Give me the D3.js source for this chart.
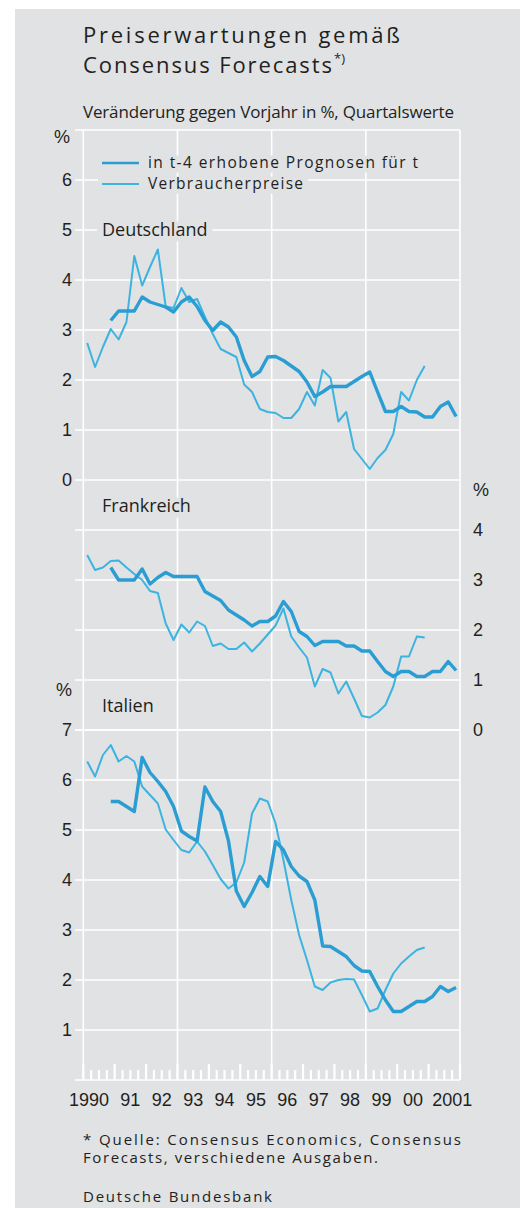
<!DOCTYPE html>
<html>
<head>
<meta charset="utf-8">
<script src="https://cdn.jsdelivr.net/npm/d3@7"></script>
<style>body{margin:0;background:#fff}</style>
</head>
<body>
<script>
// quarterly values 1990Q1 .. 2001Q4 (null = no value)
var yearLabels = ["1990","91","92","93","94","95","96","97","98","99","00","2001"];

var deCPI = [2.74,2.26,2.66,3.02,2.81,3.16,4.48,3.89,4.26,4.61,3.47,3.44,3.84,3.56,3.62,3.26,
  2.92,2.62,2.54,2.46,1.91,1.76,1.42,1.36,1.34,1.24,1.24,1.42,1.76,1.49,2.2,2.04,
  1.17,1.36,0.62,0.42,0.22,0.44,0.6,0.92,1.76,1.59,2.0,2.28,null,null,null,null];
var deFC = [null,null,null,3.19,3.38,3.38,3.38,3.66,3.56,3.51,3.46,3.36,3.56,3.66,3.47,3.19,
  2.99,3.16,3.06,2.86,2.39,2.07,2.17,2.46,2.47,2.39,2.28,2.17,1.96,1.67,1.76,1.87,
  1.87,1.87,1.97,2.07,2.16,1.76,1.37,1.37,1.47,1.37,1.36,1.26,1.26,1.47,1.56,1.27];

var frCPI = [3.5,3.2,3.25,3.38,3.39,3.25,3.12,3.0,2.78,2.74,2.13,1.8,2.11,1.95,2.17,2.08,
  1.68,1.73,1.62,1.62,1.75,1.57,1.73,1.91,2.09,2.43,1.87,1.65,1.45,0.87,1.22,1.15,
  0.73,0.97,0.63,0.28,0.25,0.35,0.5,0.87,1.47,1.47,1.87,1.85,null,null,null,null];
var frFC = [null,null,null,3.25,3.0,3.0,3.0,3.22,2.92,3.05,3.15,3.07,3.07,3.07,3.07,2.77,
  2.68,2.59,2.4,2.3,2.2,2.08,2.17,2.17,2.28,2.57,2.37,1.97,1.87,1.69,1.77,1.77,
  1.77,1.68,1.68,1.58,1.58,1.37,1.17,1.07,1.17,1.17,1.07,1.07,1.17,1.17,1.37,1.19];

var itCPI = [6.37,6.07,6.5,6.7,6.37,6.48,6.37,5.87,5.7,5.53,5.01,4.8,4.6,4.55,4.77,4.57,
  4.3,4.02,3.83,3.95,4.35,5.33,5.63,5.57,5.13,4.4,3.6,2.9,2.4,1.87,1.8,1.95,
  2.0,2.02,2.01,1.7,1.37,1.43,1.8,2.13,2.33,2.47,2.6,2.65,null,null,null,null];
var itFC = [null,null,null,5.57,5.57,5.47,5.37,6.45,6.15,5.97,5.77,5.47,4.98,4.87,4.78,5.86,
  5.57,5.37,4.78,3.78,3.47,3.75,4.07,3.87,4.77,4.6,4.27,4.08,3.97,3.6,2.68,2.67,
  2.57,2.47,2.29,2.18,2.17,1.87,1.6,1.37,1.37,1.47,1.57,1.57,1.67,1.87,1.77,1.85];

var legendLabels = ["in t-4 erhobene Prognosen für t", "Verbraucherpreise"];

var bg = "#e1e2e4", ink = "#231f20", grid = "#ffffff";
var cFC = "#2a9dd3", cCPI = "#3db3e0";
var sans = "'Open Sans','Noto Sans',sans-serif";
var narrow = "'Liberation Sans Narrow','Liberation Sans',sans-serif";

var svg = d3.select("body").append("svg").attr("width", 520).attr("height", 1208);
svg.append("rect").attr("x", 15).attr("y", 9).attr("width", 505).attr("height", 1199).attr("fill", bg);

var x = d3.scaleLinear().domain([1990, 2002]).range([83.3, 460]);
var qx = function(i) { return x(1990 + (i + 0.5) / 4); };
var yDE = d3.scaleLinear().domain([0, 7]).range([480, 130]);
var yFR = d3.scaleLinear().domain([0, 4]).range([730, 530]);
var yIT = d3.scaleLinear().domain([0, 7]).range([1080, 730]);

// grid
var g = svg.append("g").attr("stroke", grid).attr("stroke-width", 1.6);
[[yDE, yDE.ticks(7)], [yFR, yFR.ticks(4)], [yIT, yIT.ticks(7)]].forEach(function(p) {
  g.selectAll(null).data(p[1]).enter().append("line")
    .attr("x1", 75).attr("x2", x(2002))
    .attr("y1", function(d) { return p[0](d); }).attr("y2", function(d) { return p[0](d); });
});
g.selectAll(null).data([1990, 1993, 1996, 1999, 2002]).enter().append("line")
  .attr("x1", function(d) { return x(d); }).attr("x2", function(d) { return x(d); })
  .attr("y1", yDE(7)).attr("y2", yIT(0));
// quarter ticks on the time axis
g.selectAll(null).data(d3.range(1990, 2002.01, 0.25)).enter().append("line")
  .attr("x1", function(d) { return x(d); }).attr("x2", function(d) { return x(d); })
  .attr("y1", function(d) { return d % 1 == 0 ? yIT(0) - 16 : yIT(0) - 10; })
  .attr("y2", yIT(0)).attr("stroke-width", 2.2);

// axis labels
function axisText(sel, scale, vals, xx, anchor) {
  sel.selectAll(null).data(vals).enter().append("text")
    .attr("x", xx).attr("y", function(d) { return scale(d); })
    .attr("dy", "0.36em").attr("text-anchor", anchor)
    .attr("font-family", narrow).attr("font-size", 18).attr("fill", ink)
    .text(function(d) { return d; });
}
axisText(svg, yDE, d3.range(0, 7), 72, "end");
axisText(svg, yFR, d3.range(0, 5), 473, "start");
axisText(svg, yIT, d3.range(1, 8), 72, "end");
[[62, 137, "middle"], [64, 690, "middle"], [481, 490, "middle"]].forEach(function(p) {
  svg.append("text").attr("x", p[0]).attr("y", p[1]).attr("dy", "0.36em").attr("text-anchor", p[2])
    .attr("font-family", narrow).attr("font-size", 18).attr("fill", ink).text("%");
});

svg.selectAll(null).data(yearLabels).enter().append("text")
  .attr("x", function(d, i) {
    var c = x(1990 + i + 0.5);
    if (i == 0) c -= 10;
    if (i == yearLabels.length - 1) c += 8;
    return c;
  })
  .attr("y", 1106).attr("text-anchor", "middle")
  .attr("font-family", narrow).attr("font-size", 18).attr("fill", ink)
  .text(function(d) { return d; });

// labels with background boxes (boxes sit in their own layer below the texts)
var boxLayer = svg.append("g");
var textLayer = svg.append("g");
function boxedText(txt, xx, yy, size, len, boxLeft) {
  var t = textLayer.append("text").attr("x", xx).attr("y", yy)
    .attr("font-family", sans).attr("font-size", size).attr("fill", ink).text(txt);
  if (len) t.attr("textLength", len);
  var bb = t.node().getBBox();
  var x0 = boxLeft != null ? boxLeft : bb.x - 5;
  boxLayer.append("rect").attr("x", x0).attr("y", yy - size * 0.8)
    .attr("width", bb.x + bb.width + 5 - x0).attr("height", size * 1.1).attr("fill", bg);
  return t;
}
boxedText("Deutschland", 102, 236, 18);
boxedText("Frankreich", 102, 512, 18);
boxedText("Italien", 102, 712, 18);

// legend
legendLabels.forEach(function(l, i) {
  var yy = 163 + i * 21;
  boxedText(l, 148, yy + 5, 15.5, i == 0 ? 270 : 155, 98);
  textLayer.append("line").attr("x1", 102).attr("x2", 139).attr("y1", yy).attr("y2", yy)
    .attr("stroke", i == 0 ? cFC : cCPI).attr("stroke-width", i == 0 ? 2.6 : 2.2);
});

// series
var panels = [[yDE, deCPI, deFC], [yFR, frCPI, frFC], [yIT, itCPI, itFC]];
panels.forEach(function(p) {
  var line = d3.line().defined(function(d) { return d != null; })
    .x(function(d, i) { return qx(i); }).y(function(d) { return p[0](d); });
  svg.append("path").attr("d", line(p[1])).attr("fill", "none")
    .attr("stroke", cCPI).attr("stroke-width", 2).attr("stroke-linejoin", "round");
  svg.append("path").attr("d", line(p[2])).attr("fill", "none")
    .attr("stroke", cFC).attr("stroke-width", 3.4).attr("stroke-linejoin", "round");
});

// titles
svg.append("text").attr("x", 83).attr("y", 43).attr("font-family", sans).attr("font-size", 22)
  .attr("fill", ink).attr("textLength", 317).text("Preiserwartungen gemäß");
svg.append("text").attr("x", 83).attr("y", 73).attr("font-family", sans).attr("font-size", 22)
  .attr("fill", ink).attr("textLength", 249).text("Consensus Forecasts");
svg.append("text").attr("x", 334).attr("y", 63).attr("font-family", sans).attr("font-size", 13)
  .attr("fill", ink).text("*)");
svg.append("text").attr("x", 83).attr("y", 118).attr("font-family", sans).attr("font-size", 17)
  .attr("fill", ink).attr("textLength", 371).text("Veränderung gegen Vorjahr in %, Quartalswerte");

// footnote
svg.append("text").attr("x", 83).attr("y", 1145).attr("font-family", sans).attr("font-size", 15)
  .attr("fill", ink).attr("textLength", 378).text("* Quelle: Consensus Economics, Consensus");
svg.append("text").attr("x", 83).attr("y", 1163).attr("font-family", sans).attr("font-size", 15)
  .attr("fill", ink).attr("textLength", 295).text("Forecasts, verschiedene Ausgaben.");
svg.append("text").attr("x", 83).attr("y", 1202).attr("font-family", sans).attr("font-size", 15)
  .attr("fill", ink).attr("textLength", 189).text("Deutsche Bundesbank");
</script>
</body>
</html>
